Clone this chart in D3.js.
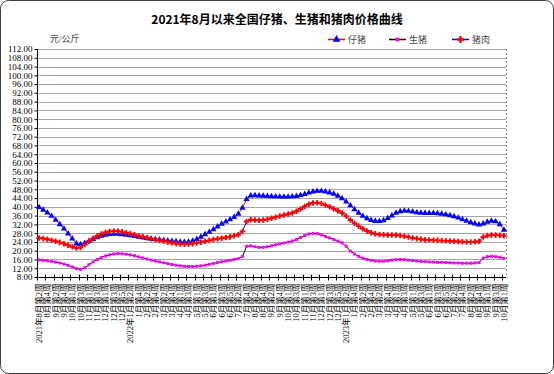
<!DOCTYPE html>
<html lang="zh">
<head>
<meta charset="UTF-8">
<title>仔猪、生猪和猪肉价格曲线</title>
<script src="https://cdn.jsdelivr.net/npm/d3@7"></script>
<style>
  body { margin: 0; background: #fff; }
  svg { display: block; }
</style>
</head>
<body>
<div id="chart"></div>
<script>
// x tick labels, one for every second week
const tickLabels = ["2021年8月第2周","8月第4周","9月第2周","9月第4周","10月第1周","10月第3周","11月第1周","11月第3周","12月第1周","12月第3周","12月第5周",
  "2022年1月第2周","1月第4周","2月第2周","2月第4周","3月第2周","3月第4周","4月第1周","4月第3周","5月第1周","5月第3周","6月第1周","6月第3周","6月第5周",
  "7月第2周","7月第4周","8月第2周","8月第4周","9月第2周","9月第4周","10月第1周","10月第3周","11月第1周","11月第3周","12月第1周","12月第3周","12月第5周",
  "2023年1月第2周","1月第4周","2月第2周","2月第4周","3月第2周","3月第4周","4月第1周","4月第3周","5月第1周","5月第3周","6月第1周","6月第3周","6月第5周",
  "7月第2周","7月第4周","8月第2周","8月第4周","9月第1周","9月第3周","10月第1周"]

const yTicks = [8,12,16,20,24,28,32,36,40,44,48,52,56,60,64,68,72,76,80,84,88,92,96,100,104,108,112]

// 仔猪
const piglet = [39.8,38.6,37.3,35.8,34.0,32.0,30.0,27.8,25.5,23.2,
  22.8,23.4,24.3,25.2,26.0,26.7,27.2,27.5,27.6,27.6,
  27.4,27.2,26.9,26.6,26.3,26.0,25.7,25.4,25.2,25.0,
  24.8,24.6,24.4,24.2,24.0,23.9,24.0,24.5,25.3,26.3,
  27.4,28.5,29.7,31.0,32.2,33.2,34.2,35.3,36.8,39.5,
  43.5,45.1,45.2,45.1,45.0,44.9,44.8,44.7,44.6,44.6,
  44.6,44.7,44.9,45.3,45.8,46.4,46.9,47.2,47.2,46.9,
  46.5,45.9,45.0,43.8,42.3,40.6,38.8,37.2,35.8,34.7,
  33.9,33.5,33.4,33.8,34.8,36.0,37.2,37.9,38.2,38.1,
  37.8,37.4,37.2,37.1,37.1,37.1,37.0,36.8,36.5,36.1,
  35.6,35.0,34.3,33.6,32.9,32.3,31.9,32.3,33.1,33.6,
  33.3,32.0,29.5]

// 生猪
const hog = [15.8,15.6,15.4,15.1,14.8,14.4,13.9,13.3,12.6,11.8,
  11.5,12.2,13.6,14.9,16.0,16.9,17.6,18.1,18.5,18.7,
  18.6,18.4,18.1,17.7,17.2,16.7,16.2,15.7,15.3,14.9,
  14.5,14.1,13.7,13.4,13.1,12.9,12.8,12.8,12.9,13.1,
  13.4,13.8,14.2,14.6,15.0,15.3,15.6,16.0,16.4,17.4,
  22.0,22.2,21.8,21.5,21.5,21.8,22.2,22.7,23.1,23.5,
  23.9,24.4,25.1,26.0,26.9,27.6,27.9,27.8,27.2,26.5,
  25.8,25.1,24.4,23.6,22.0,19.8,18.5,17.4,16.6,16.0,
  15.6,15.3,15.2,15.2,15.4,15.7,15.9,16.0,15.9,15.7,
  15.5,15.3,15.1,15.0,14.9,14.8,14.7,14.7,14.6,14.5,
  14.4,14.4,14.3,14.3,14.3,14.4,14.6,16.6,17.3,17.4,
  17.3,17.0,16.5]

// 猪肉
const pork = [25.8,25.5,25.2,24.8,24.3,23.8,23.2,22.5,21.8,21.2,
  21.5,22.8,24.3,25.6,26.7,27.6,28.3,28.8,29.0,28.9,
  28.6,28.2,27.8,27.3,26.8,26.3,25.9,25.5,25.1,24.7,
  24.3,23.9,23.6,23.3,23.1,23.0,23.0,23.2,23.5,23.9,
  24.3,24.7,25.1,25.4,25.7,26.0,26.3,26.8,27.3,28.8,
  33.3,34.2,34.0,33.9,34.0,34.3,34.8,35.3,35.8,36.3,
  36.7,37.2,38.0,39.0,40.2,41.2,41.8,41.9,41.5,40.8,
  40.0,39.1,38.2,37.2,35.8,34.0,32.5,31.2,30.0,29.0,
  28.2,27.7,27.4,27.3,27.2,27.2,27.1,26.9,26.6,26.2,
  25.8,25.5,25.2,25.0,24.9,24.8,24.7,24.6,24.5,24.4,
  24.3,24.2,24.1,24.0,24.0,24.1,24.3,26.2,26.9,27.1,
  27.1,27.0,26.8]

const width = 554
const height = 374
const plotLeft = 37, plotRight = 506, plotTop = 49, plotBottom = 277
const serif = "'Liberation Serif', 'Noto Sans CJK SC', serif"

const series = [
  { name: "仔猪", values: piglet, line: "#ff0000", fill: "#0000ff", symbol: d3.symbolTriangle, size: 17 },
  { name: "生猪", values: hog, line: "#000000", fill: "#ff00ff", symbol: d3.symbolSquare, size: 9 },
  { name: "猪肉", values: pork, line: "#0000ff", fill: "#ff0000", symbol: d3.symbolCross, size: 17 }
]

const svg = d3.select("#chart").append("svg")
  .attr("width", width)
  .attr("height", height)

svg.append("rect")
  .attr("x", 0.5).attr("y", 0.5)
  .attr("width", width - 1).attr("height", height - 1)
  .attr("rx", 8)
  .attr("fill", "#fff")
  .attr("stroke", "#404040")

svg.append("text")
  .attr("x", width / 2)
  .attr("y", 24)
  .attr("text-anchor", "middle")
  .style("font-family", "'Noto Sans CJK SC', sans-serif")
  .style("font-size", "12px")
  .style("font-weight", "bold")
  .text("2021年8月以来全国仔猪、生猪和猪肉价格曲线")

svg.append("text")
  .attr("x", 50)
  .attr("y", 42)
  .style("font-family", serif)
  .style("font-size", "9px")
  .attr("fill", "#444")
  .text("元/公斤")

const x = d3.scaleBand()
  .domain(d3.range(piglet.length))
  .range([plotLeft, plotRight])

const y = d3.scaleLinear()
  .domain([8, 112])
  .range([plotBottom, plotTop])

// grid
svg.append("g")
  .selectAll("line")
  .data(yTicks.slice(1))
  .enter()
  .append("line")
  .attr("x1", plotLeft).attr("x2", plotRight)
  .attr("y1", d => Math.round(y(d)) + 0.5)
  .attr("y2", d => Math.round(y(d)) + 0.5)
  .attr("stroke", "#a6a6a6")

// plot border, right side dashed
svg.append("line")
  .attr("x1", plotRight + 0.5).attr("x2", plotRight + 0.5)
  .attr("y1", plotTop).attr("y2", plotBottom)
  .attr("stroke", "#909090")
  .attr("stroke-dasharray", "2,2")

const yAxis = d3.axisLeft(y)
  .tickValues(yTicks)
  .tickFormat(d3.format(".2f"))
  .tickSize(3)
  .tickPadding(2)

svg.append("g")
  .attr("transform", `translate(${plotLeft + 0.5},0)`)
  .call(yAxis)
  .call(g => g.select(".domain").attr("d", `M0,${plotTop}V${plotBottom}`))
  .selectAll("text")
  .style("font-family", serif)
  .style("font-size", "9px")
  .attr("fill", "#000")

const xAxis = d3.axisBottom(x)
  .tickValues(d3.range(0, piglet.length, 2))
  .tickFormat(i => tickLabels[i / 2])
  .tickSize(0)

const xg = svg.append("g")
  .attr("transform", `translate(0,${plotBottom + 0.5})`)
  .call(xAxis)

xg.select(".domain").attr("d", `M${plotLeft},0H${plotRight}`)

xg.selectAll("text")
  .style("font-family", serif)
  .style("font-size", "8.5px")
  .attr("fill", "#000")
  .attr("text-anchor", "end")
  .attr("transform", "rotate(-90)")
  .attr("x", -6)
  .attr("y", 0)
  .attr("dy", "0.35em")

// cross ticks on category boundaries
xg.append("g")
  .selectAll("line")
  .data(d3.range(0, piglet.length, 2))
  .enter()
  .append("line")
  .attr("x1", d => Math.round(x(d)) + 0.5)
  .attr("x2", d => Math.round(x(d)) + 0.5)
  .attr("y1", -3).attr("y2", 3)
  .attr("stroke", "#000")

const cx = i => x(i) + x.bandwidth() / 2

series.forEach(s => {
  svg.append("path")
    .datum(s.values)
    .attr("fill", "none")
    .attr("stroke", s.line)
    .attr("stroke-width", 1)
    .attr("d", d3.line().x((_, i) => cx(i)).y(d => y(d)))

  svg.append("g")
    .selectAll("path")
    .data(s.values)
    .enter()
    .append("path")
    .attr("transform", (d, i) => `translate(${cx(i)},${y(d)})`)
    .attr("d", d3.symbol().type(s.symbol).size(s.size))
    .attr("fill", s.fill)
})

// legend
const legendX = [328, 389, 452]
const legend = svg.append("g")
series.forEach((s, k) => {
  const g = legend.append("g").attr("transform", `translate(${legendX[k]},39.5)`)
  g.append("line")
    .attr("x1", 0).attr("x2", 17)
    .attr("stroke", s.line)
    .attr("stroke-width", 1.5)
  g.append("path")
    .attr("transform", "translate(8.5,0)")
    .attr("d", d3.symbol().type(s.symbol).size(s.size * 1.5))
    .attr("fill", s.fill)
  g.append("text")
    .attr("x", 20)
    .attr("y", 3.5)
    .style("font-family", serif)
    .style("font-size", "9px")
    .attr("fill", "#444")
    .text(s.name)
})
</script>
</body>
</html>
